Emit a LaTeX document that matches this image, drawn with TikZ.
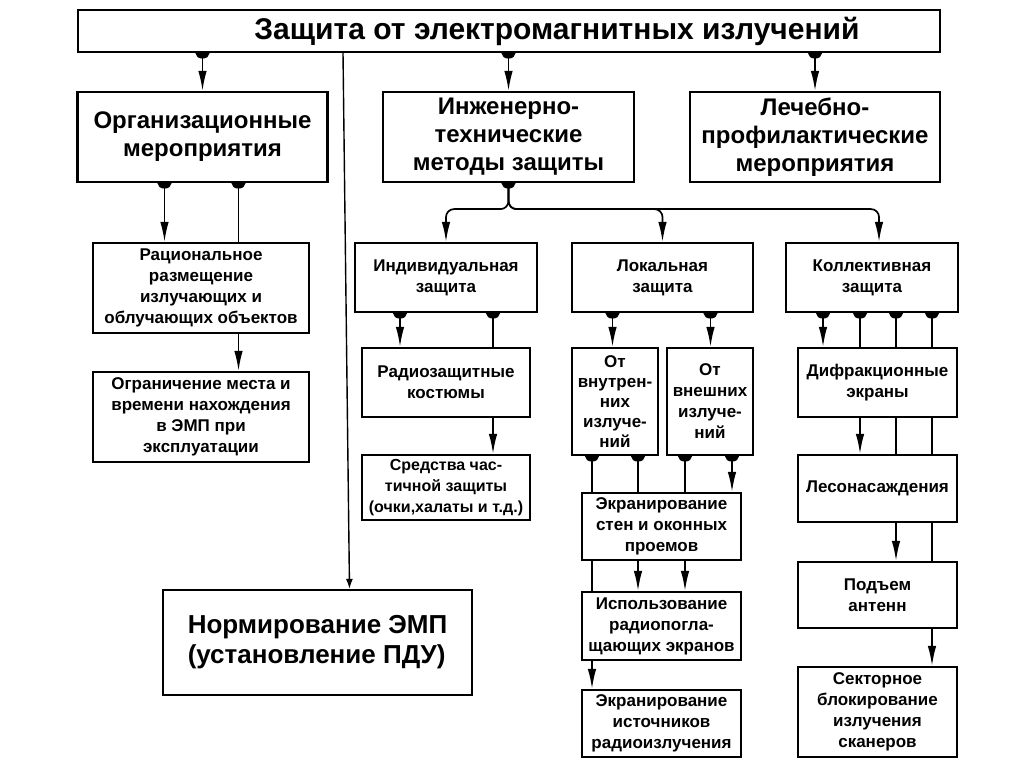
\documentclass[tikz,border=0pt]{standalone}
\usepackage{fontspec}
\setmainfont{Liberation Sans}
\usetikzlibrary{arrows.meta}
\pgfdeclarelayer{bg}
\pgfsetlayers{bg,main}
\tikzset{
 box/.style={draw,line width=2.2pt,fill=white,align=center,inner sep=1pt,
  font=\bfseries\fontsize{17}{21}\selectfont},
 bigbox/.style={box,font=\bfseries\fontsize{24}{28}\selectfont},
 link/.style={line width=1.7pt},
 dotline/.style={link,{Circle[length=11pt,width=14pt]}-,shorten <=-5.5pt},
 dotarr/.style={link,{Circle[length=11pt,width=14pt]}-{Latex[length=20pt,width=8.5pt]},shorten <=-5.5pt},
 arr/.style={link,-{Latex[length=20pt,width=8.5pt]}},
}
\begin{document}
\begin{tikzpicture}[x=1pt,y=-1pt]
 \useasboundingbox (0,0) rectangle (1024,767);
 \node[box,minimum width=862,minimum height=42,font=\bfseries\fontsize{30}{34}\selectfont] (title) at (509,31) {\hspace*{96pt}Защита от электромагнитных излучений};
 \node[bigbox,minimum width=250,minimum height=90] (org) at (202.5,137) {Организационные\\мероприятия};
 \node[bigbox,minimum width=251,minimum height=90] (eng) at (508.5,137) {Инженерно-\\технические\\методы защиты};
 \node[bigbox,minimum width=250,minimum height=90] (med) at (815,137) {Лечебно-\\профилактические\\мероприятия};
 \node[box,minimum width=216,minimum height=90] (rat) at (201,288) {Рациональное\\размещение\\излучающих и\\облучающих объектов};
 \node[box,minimum width=216,minimum height=90] (ogr) at (201,417) {Ограничение места и\\времени нахождения\\в ЭМП при\\эксплуатации};
 \node[bigbox,minimum width=309,minimum height=105,align=left,font=\bfseries\fontsize{26}{30}\selectfont] (norm) at (317.5,642.5) {Нормирование ЭМП\\(установление ПДУ)};
 \node[box,minimum width=182,minimum height=69] (ind) at (446,277.5) {Индивидуальная\\защита};
 \node[box,minimum width=181,minimum height=69] (loc) at (662.5,277.5) {Локальная\\защита};
 \node[box,minimum width=172,minimum height=69] (col) at (872,277.5) {Коллективная\\защита};
 \node[box,minimum width=168,minimum height=69] (rad) at (446,382.5) {Радиозащитные\\костюмы};
 \node[box,minimum width=168,minimum height=65,font=\bfseries\fontsize{16}{21}\selectfont] (sred) at (446,487.5) {Средства час-\\тичной защиты\\(очки,халаты и т.д.)};
 \node[box,minimum width=86,minimum height=107,font=\bfseries\fontsize{17}{20}\selectfont] (vnu) at (615,401.5) {От\\внутрен-\\них\\излуче-\\ний};
 \node[box,minimum width=86,minimum height=107] (vne) at (710,401.5) {От\\внешних\\излуче-\\ний};
 \node[box,minimum width=159,minimum height=67] (ekst) at (661.5,526.5) {Экранирование\\стен и оконных\\проемов};
 \node[box,minimum width=159,minimum height=68] (isp) at (661.5,626) {Использование\\радиопогла-\\щающих экранов};
 \node[box,minimum width=159,minimum height=67] (ekis) at (661.5,723.5) {Экранирование\\источников\\радиоизлучения};
 \node[box,minimum width=159,minimum height=69] (dif) at (877.5,382.5) {Дифракционные\\экраны};
 \node[box,minimum width=159,minimum height=67] (les) at (877.5,488.5) {Лесонасаждения};
 \node[box,minimum width=159,minimum height=66] (pod) at (877.5,595) {Подъем\\антенн};
 \node[box,minimum width=159,minimum height=90] (sek) at (877.5,712) {Секторное\\блокирование\\излучения\\сканеров};
 \begin{pgfonlayer}{bg}
 \draw[dotarr] (title.south -| org.north) -- (org.north);
 \draw[dotarr] (title.south -| eng.north) -- (eng.north);
 \draw[dotarr] (title.south -| med.north) -- (med.north);
 \draw[line width=1.4pt,-{Latex[length=10pt,width=7pt]}] ([xshift=-166pt]title.south) -- ([xshift=32pt]norm.north);
 \draw[dotarr] ([xshift=-38pt]org.south) -- ([xshift=-38pt]org.south |- rat.north);
 \draw[dotline] ([xshift=36pt]org.south) -- ([xshift=36pt]org.south |- rat.north);
 \draw[arr] ([xshift=36pt]org.south |- rat.south) -- ([xshift=36pt]org.south |- ogr.north);
 \draw[dotline] (eng.south) -- ++(0,10);
 \draw[arr,rounded corners=8pt] (eng.south) -- ++(0,26) -| (ind.north);
 \draw[arr,rounded corners=8pt] (eng.south) -- ++(0,26) -| (loc.north);
 \draw[arr,rounded corners=8pt] (eng.south) -- ++(0,26) -| ([xshift=7pt]col.north);
 \draw[dotarr] ([xshift=-46pt]ind.south) -- ([xshift=-46pt]ind.south |- rad.north);
 \draw[dotline] ([xshift=47pt]ind.south) -- ([xshift=47pt]ind.south |- rad.north);
 \draw[arr] ([xshift=47pt]ind.south |- rad.south) -- ([xshift=47pt]ind.south |- sred.north);
 \draw[dotarr] ([xshift=-50pt]loc.south) -- ([xshift=-50pt]loc.south |- vnu.north);
 \draw[dotarr] ([xshift=48pt]loc.south) -- ([xshift=48pt]loc.south |- vne.north);
 \draw[dotline] ([xshift=-23pt]vnu.south) -- ([xshift=-23pt]vnu.south |- ekst.north);
 \draw[dotline] ([xshift=23pt]vnu.south) -- ([xshift=23pt]vnu.south |- ekst.north);
 \draw[dotline] ([xshift=-25pt]vne.south) -- ([xshift=-25pt]vne.south |- ekst.north);
 \draw[dotarr] ([xshift=22pt]vne.south) -- ([xshift=22pt]vne.south |- ekst.north);
 \draw[link] ([xshift=-23pt]vnu.south |- ekst.south) -- ([xshift=-23pt]vnu.south |- isp.north);
 \draw[arr] ([xshift=23pt]vnu.south |- ekst.south) -- ([xshift=23pt]vnu.south |- isp.north);
 \draw[arr] ([xshift=-25pt]vne.south |- ekst.south) -- ([xshift=-25pt]vne.south |- isp.north);
 \draw[arr] ([xshift=-23pt]vnu.south |- isp.south) -- ([xshift=-23pt]vnu.south |- ekis.north);
 \draw[dotarr] ([xshift=-49pt]col.south) -- ([xshift=-49pt]col.south |- dif.north);
 \draw[dotline] ([xshift=-12pt]col.south) -- ([xshift=-12pt]col.south |- dif.north);
 \draw[dotline] ([xshift=24pt]col.south) -- ([xshift=24pt]col.south |- dif.north);
 \draw[dotline] ([xshift=60pt]col.south) -- ([xshift=60pt]col.south |- dif.north);
 \draw[arr] ([xshift=-12pt]col.south |- dif.south) -- ([xshift=-12pt]col.south |- les.north);
 \draw[link] ([xshift=24pt]col.south |- dif.south) -- ([xshift=24pt]col.south |- les.north);
 \draw[link] ([xshift=60pt]col.south |- dif.south) -- ([xshift=60pt]col.south |- les.north);
 \draw[arr] ([xshift=24pt]col.south |- les.south) -- ([xshift=24pt]col.south |- pod.north);
 \draw[link] ([xshift=60pt]col.south |- les.south) -- ([xshift=60pt]col.south |- pod.north);
 \draw[arr] ([xshift=60pt]col.south |- pod.south) -- ([xshift=60pt]col.south |- sek.north);
 \end{pgfonlayer}
\end{tikzpicture}
\end{document}
